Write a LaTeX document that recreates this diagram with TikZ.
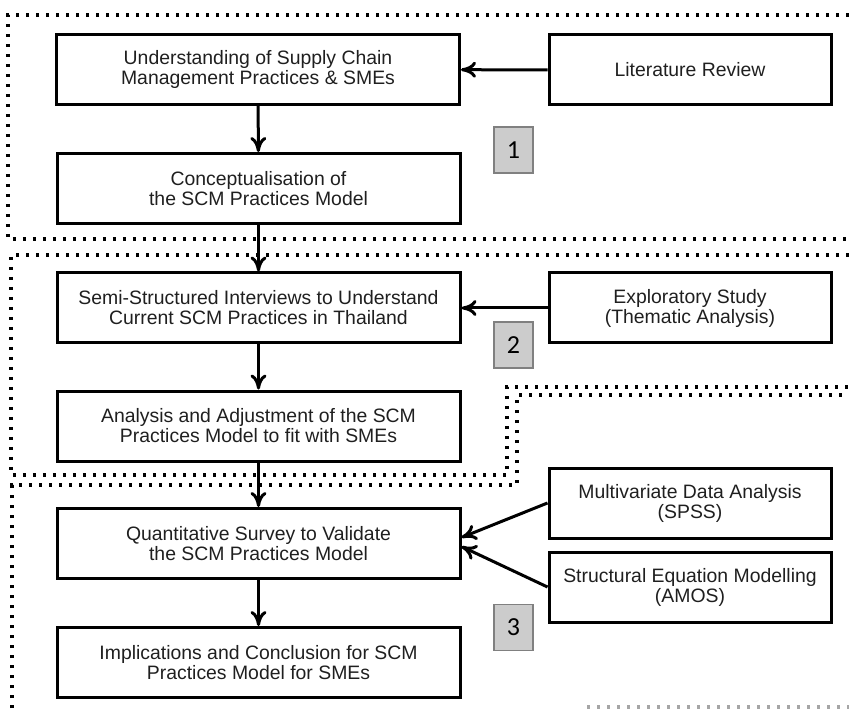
\documentclass[tikz,border=0pt]{standalone}
\usepackage{fontspec}
\setmainfont{Liberation Sans}
\newfontfamily\numfont{Carlito}
\usetikzlibrary{arrows.meta}
\begin{document}
\begin{tikzpicture}[x=0.5pt,y=-0.5pt,
  stepbox/.style={draw=black, line width=1.5pt, minimum width=201.5pt, minimum height=35pt,
    align=center, inner sep=0pt, text=black!88, font=\fontsize{9.7}{10}\selectfont},
  srcbox/.style={stepbox, minimum width=141pt},
  phase/.style={draw=black!50, fill=black!20, line width=0.6pt, minimum width=19.5pt,
    minimum height=23pt, inner sep=0pt, font=\numfont\fontsize{13}{13}\selectfont},
  flow/.style={line width=1.5pt, -{Computer Modern Rightarrow[length=7.5pt,width=8pt]}},
  region/.style={line width=1.6pt, dash pattern=on 1.6pt off 3.4pt}
]
\useasboundingbox (0,0) rectangle (849,710);

% phase boundaries
\draw[region] (849,15) -- (8,15) -- (8,239) -- (849,239);
\draw[region] (849,255) -- (11,255) -- (11,475) -- (507,475) -- (507,387) -- (849,387);
\draw[region] (12,708) -- (12,485) -- (517,485) -- (517,395) -- (849,395);
\draw[region, black!35] (587,707) -- (849,707);

% main research steps
\node[stepbox] (und) at (258,69.5) {Understanding of Supply Chain\\Management Practices \& SMEs};
\node[stepbox] (con) at (258.5,188.5) {Conceptualisation of\\the SCM Practices Model};
\node[stepbox] (sem) at (258.5,308) {Semi-Structured Interviews to Understand\\Current SCM Practices in Thailand};
\node[stepbox] (ana) at (258.5,426) {Analysis and Adjustment of the SCM\\Practices Model to fit with SMEs};
\node[stepbox] (qua) at (258.5,543.5) {Quantitative Survey to Validate\\the SCM Practices Model};
\node[stepbox] (imp) at (258.5,662.5) {Implications and Conclusion for SCM\\Practices Model for SMEs};

% methods feeding the steps
\node[srcbox] (lit) at (690,70) {Literature Review};
\node[srcbox] (exp) at (690,308) {Exploratory Study\\(Thematic Analysis)};
\node[srcbox] (mul) at (690,503) {Multivariate Data Analysis\\(SPSS)};
\node[srcbox] (sem2) at (690,587) {Structural Equation Modelling\\(AMOS)};

% phase numbers
\node[phase] (p1) at (513.5,150) {1};
\node[phase] (p2) at (513.5,345) {2};
\node[phase] (p3) at (513.5,627.5) {3};

% connectors
\draw[flow] (und) -- (con);
\draw[flow] (con) -- (sem);
\draw[flow] (sem) -- (ana);
\draw[flow] (ana) -- (qua);
\draw[flow] (qua) -- (imp);
\draw[flow] (lit) -- (und);
\draw[flow] (exp) -- (sem);
\draw[flow] (mul.west) -- ([yshift=3pt]qua.east);
\draw[flow] (sem2.west) -- ([yshift=-1.5pt]qua.east);
\end{tikzpicture}
\end{document}
